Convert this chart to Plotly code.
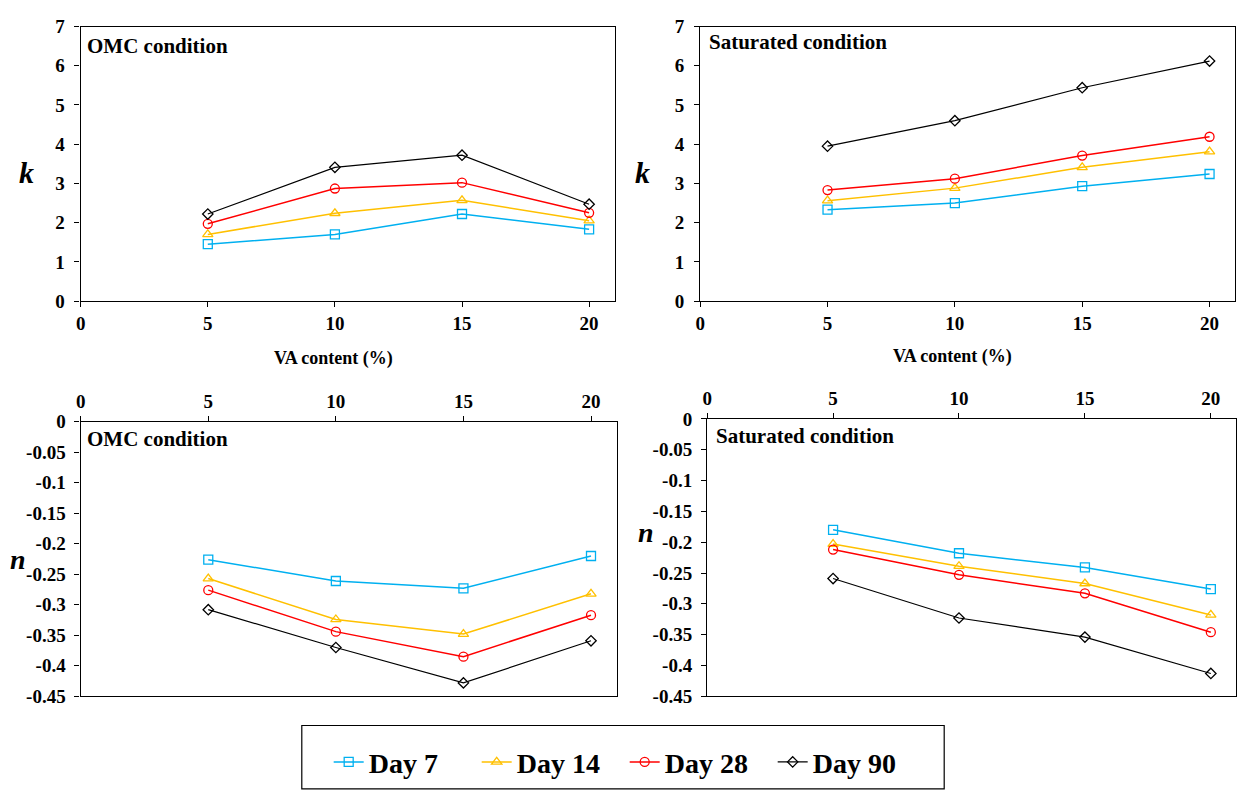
import plotly.graph_objects as go

va = [5, 10, 15, 20]
series_names = ["Day 7", "Day 14", "Day 28", "Day 90"]
colors = ["#00B0F0", "#FFC000", "#FF0000", "#000000"]
symbols = ["square-open", "triangle-up-open", "circle-open", "diamond-open"]

k_omc_d7 = [1.45, 1.70, 2.22, 1.83]
k_omc_d14 = [1.70, 2.24, 2.57, 2.05]
k_omc_d28 = [1.97, 2.87, 3.02, 2.25]
k_omc_d90 = [2.22, 3.41, 3.72, 2.47]

k_sat_d7 = [2.33, 2.50, 2.93, 3.24]
k_sat_d14 = [2.56, 2.88, 3.41, 3.81]
k_sat_d28 = [2.83, 3.12, 3.71, 4.19]
k_sat_d90 = [3.95, 4.60, 5.44, 6.12]

n_omc_d7 = [-0.226, -0.261, -0.273, -0.220]
n_omc_d14 = [-0.257, -0.324, -0.348, -0.282]
n_omc_d28 = [-0.276, -0.344, -0.385, -0.317]
n_omc_d90 = [-0.308, -0.370, -0.428, -0.359]

n_sat_d7 = [-0.180, -0.218, -0.241, -0.276]
n_sat_d14 = [-0.203, -0.239, -0.267, -0.318]
n_sat_d28 = [-0.212, -0.253, -0.283, -0.346]
n_sat_d90 = [-0.259, -0.323, -0.354, -0.413]

x_ticks = [0, 5, 10, 15, 20]
k_ticks = [0, 1, 2, 3, 4, 5, 6, 7]
n_ticks = [0, -0.05, -0.1, -0.15, -0.2, -0.25, -0.3, -0.35, -0.4, -0.45]
n_ticktext = ["0", "-0.05", "-0.1", "-0.15", "-0.2", "-0.25", "-0.3", "-0.35", "-0.4", "-0.45"]

panels = [
    ("x", "y", [k_omc_d7, k_omc_d14, k_omc_d28, k_omc_d90]),
    ("x2", "y2", [k_sat_d7, k_sat_d14, k_sat_d28, k_sat_d90]),
    ("x3", "y3", [n_omc_d7, n_omc_d14, n_omc_d28, n_omc_d90]),
    ("x4", "y4", [n_sat_d7, n_sat_d14, n_sat_d28, n_sat_d90]),
]

FONT = "Times New Roman, Liberation Serif, serif"
fig = go.Figure()
for p, (xa, ya, data) in enumerate(panels):
    for i, vals in enumerate(data):
        fig.add_trace(go.Scatter(
            x=va, y=vals, xaxis=xa, yaxis=ya, mode="lines+markers",
            name=series_names[i], legendgroup=series_names[i], showlegend=(p == 0),
            line=dict(color=colors[i], width=1.5 if i < 3 else 1.2),
            marker=dict(symbol=symbols[i], size=9 if i < 3 else 8, color=colors[i],
                        line=dict(width=1.3, color=colors[i])),
        ))

W, H = 1240, 792
def px(xp): return xp / W
def py(yp): return 1 - yp / H

tickfont = dict(family=FONT, size=19, color="black", weight="bold")
common_x = dict(range=[0, 21], tickvals=x_ticks, showgrid=False, zeroline=False,
                showline=True, linecolor="black", linewidth=1.4, mirror=True,
                ticks="outside", ticklen=5, tickcolor="black", tickfont=tickfont)
common_yk = dict(range=[0, 7], tickvals=k_ticks, showgrid=False, zeroline=False,
                 showline=True, linecolor="black", linewidth=1.4, mirror=True,
                 ticks="outside", ticklen=5, tickcolor="black", tickfont=tickfont,
                 ticklabelstandoff=6)
common_yn = dict(range=[-0.45, 0], tickvals=n_ticks, ticktext=n_ticktext, showgrid=False,
                 zeroline=False, showline=True, linecolor="black", linewidth=1.4, mirror=True,
                 ticks="outside", ticklen=5, tickcolor="black", tickfont=tickfont,
                 ticklabelstandoff=5)

fig.update_layout(
    width=W, height=H, margin=dict(l=0, r=0, t=0, b=0),
    paper_bgcolor="white", plot_bgcolor="white",
    xaxis=dict(domain=[px(76), px(612)], anchor="y", **common_x),
    yaxis=dict(domain=[py(299), py(17)], anchor="x", **common_yk),
    xaxis2=dict(domain=[px(698), px(1235)], anchor="y2", **common_x),
    yaxis2=dict(domain=[py(299), py(17)], anchor="x2", **common_yk),
    xaxis3=dict(domain=[px(76), px(614)], anchor="y3", side="top", **common_x),
    yaxis3=dict(domain=[py(705), py(423)], anchor="x3", **common_yn),
    xaxis4=dict(domain=[px(705), px(1236)], anchor="y4", side="top", **common_x),
    yaxis4=dict(domain=[py(705), py(420)], anchor="x4", **common_yn),
    showlegend=True,
    legend=dict(orientation="h", x=px(325), xanchor="left", y=py(747), yanchor="top",
                font=dict(family=FONT, size=28, color="black", weight="bold"),
                bgcolor="rgba(0,0,0,0)", itemwidth=30, tracegroupgap=0,
                entrywidth=103),
)

# legend frame
fig.add_shape(type="rect", xref="paper", yref="paper",
              x0=px(298), x1=px(943), y0=py(800), y1=py(735),
              line=dict(color="black", width=1.2), fillcolor="rgba(0,0,0,0)")

def ann(text, x, y, size=18, italic=False, xanchor="left"):
    t = f"<i>{text}</i>" if italic else text
    fig.add_annotation(text=f"<b>{t}</b>", x=px(x), y=py(y), xref="paper", yref="paper",
                       showarrow=False, xanchor=xanchor, yanchor="middle",
                       font=dict(family=FONT, size=size, color="black"))

ann("OMC condition", 80, 37, size=21)
ann("Saturated condition", 705, 33, size=21)
ann("OMC condition", 80, 441, size=21)
ann("Saturated condition", 712, 438, size=21)
ann("VA content (%)", 330, 358, size=18, xanchor="center")
ann("VA content (%)", 951, 356, size=18, xanchor="center")
ann("k", 22, 167, size=30, italic=True, xanchor="center")
ann("k", 640, 167, size=30, italic=True, xanchor="center")
ann("n", 13, 564, size=28, italic=True, xanchor="center")
ann("n", 644, 537, size=28, italic=True, xanchor="center")

fig.write_html("out.html")
